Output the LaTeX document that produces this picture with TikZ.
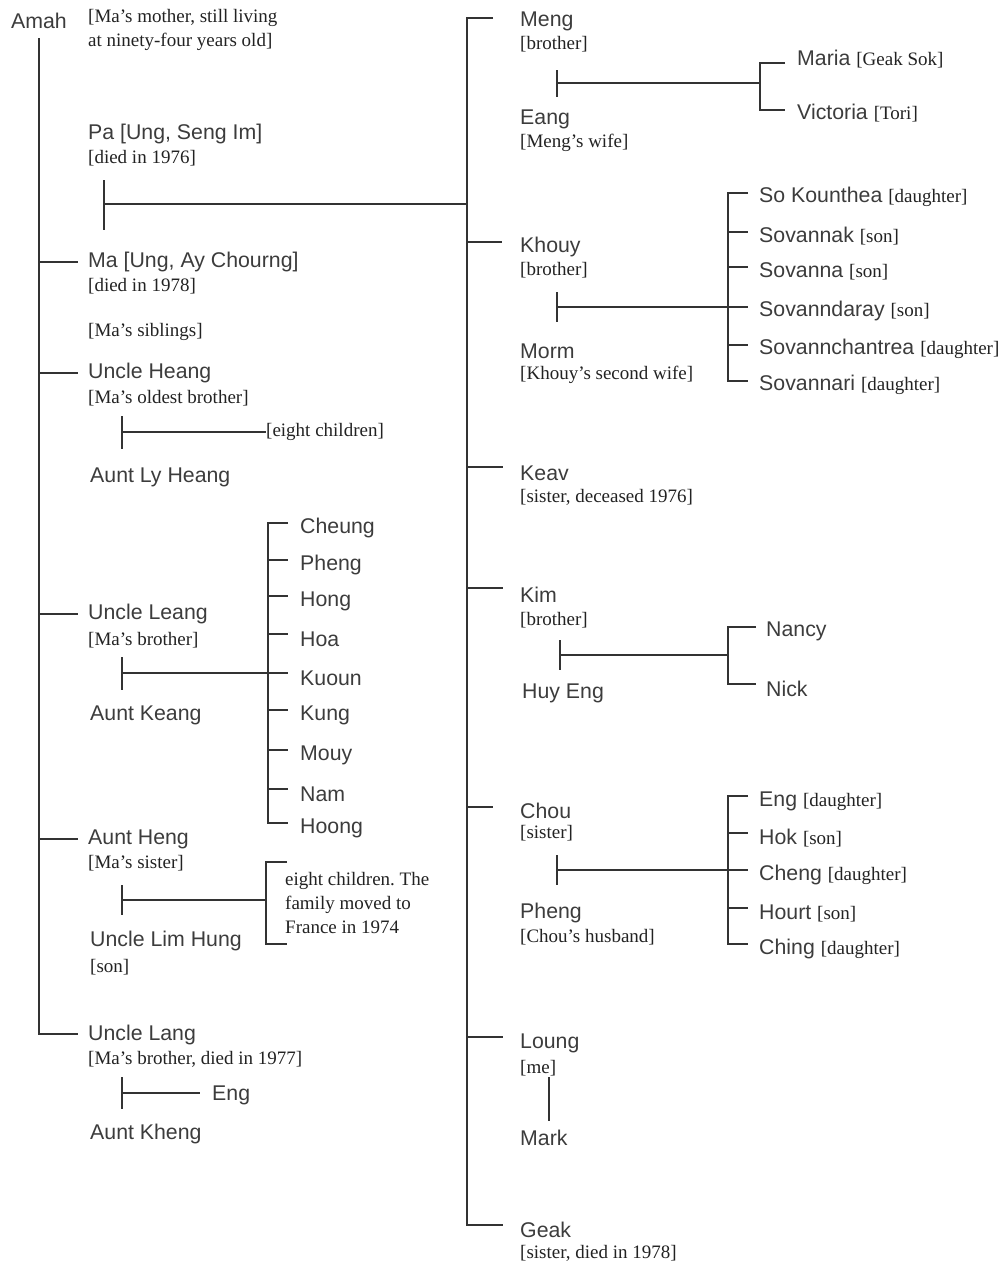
\documentclass[tikz,border=0pt]{standalone}
\usepackage{fontspec}
\setmainfont{Liberation Serif}
\setsansfont{Liberation Sans}
\usetikzlibrary{calc}
\frenchspacing
\definecolor{ink}{HTML}{333333}
\definecolor{nmcol}{HTML}{3C3C3C}
\definecolor{ancol}{HTML}{222222}
\newcommand\annot[1]{{\rmfamily\fontsize{19}{24}\selectfont\color{ancol}#1}}
\tikzset{
  nm/.style={anchor=west, inner sep=0pt, font=\sffamily\fontsize{21.3}{25}\selectfont, text=nmcol},
  ann/.style={anchor=west, inner sep=0pt, align=left, font=\rmfamily\fontsize{19}{24}\selectfont, text=ancol},
  ln/.style={draw=ink, line width=1.7pt},
}
\begin{document}
\begin{tikzpicture}[x=1pt,y=-1pt]
\useasboundingbox (0,0) rectangle (1008,1269);

% ---------------- left column ----------------
\node[nm] (amah) at (11,21) {Amah};
\node[ann] (amahA) at (88,30) {[Ma’s mother, still living\\at ninety-four years old]};
\node[nm] (pa) at (88,134) {Pa [Ung, Seng Im]};
\node[ann] (paA) at (88,158) {[died in 1976]};
\node[nm] (ma) at (88,262) {Ma [Ung, Ay Chourng]};
\node[ann] (maA) at (88,286) {[died in 1978]};
\node[ann] (sib) at (88,332) {[Ma’s siblings]};
\node[nm] (heang) at (88,373) {Uncle Heang};
\node[ann] (heangA) at (88,398) {[Ma’s oldest brother]};
\node[ann] (eightA) at (266,432) {[eight children]};
\node[nm] (lyheang) at (90,477) {Aunt Ly Heang};
\node[nm] (leang) at (88,614) {Uncle Leang};
\node[ann] (leangA) at (88,640) {[Ma’s brother]};
\node[nm] (keang) at (90,715) {Aunt Keang};
\node[nm] (cheung) at (300,528) {Cheung};
\node[nm] (pheng) at (300,565) {Pheng};
\node[nm] (hong) at (300,601) {Hong};
\node[nm] (hoa) at (300,639) {Hoa};
\node[nm] (kuoun) at (300,678) {Kuoun};
\node[nm] (kung) at (300,715) {Kung};
\node[nm] (mouy) at (300,755) {Mouy};
\node[nm] (nam) at (300,794) {Nam};
\node[nm] (hoong) at (300,828) {Hoong};
\node[nm] (heng) at (88,839) {Aunt Heng};
\node[ann] (hengA) at (88,863) {[Ma’s sister]};
\node[ann] (hengKids) at (285,903) {eight children. The\\family moved to\\France in 1974};
\node[nm] (limhung) at (90,941) {Uncle Lim Hung};
\node[ann] (limhungA) at (90,967) {[son]};
\node[nm] (lang) at (88,1035) {Uncle Lang};
\node[ann] (langA) at (88,1059) {[Ma’s brother, died in 1977]};
\node[nm] (engL) at (212,1095) {Eng};
\node[nm] (kheng) at (90,1134) {Aunt Kheng};

% left trunk and branches
\draw[ln] ([yshift=-9pt]amah.south) |- ([xshift=-10pt,yshift=1pt]lang.west);
\foreach \n in {ma,heang,leang,heng}
  \draw[ln] (amah.south |- \n.west) -- ([xshift=-10pt]\n.west);

% Pa & Ma
\coordinate (paT) at (104,180);
\coordinate (paB) at (104,230);
\coordinate (paM) at (104,204);
\coordinate (rtrunk) at (467,0);
\draw[ln] (paT) -- (paB);
\draw[ln] (paM) -- (paM -| rtrunk);

% Uncle Heang
\coordinate (heangT) at (122,416);
\coordinate (heangB) at (122,449);
\coordinate (heangM) at (122,432);
\draw[ln] (heangT) -- (heangB);
\draw[ln] (heangM) -- (eightA.west);

% Uncle Leang
\coordinate (leangT) at (122,657);
\coordinate (leangB) at (122,690);
\coordinate (leangM) at (122,673);
\draw[ln] (leangT) -- (leangB);
\foreach \n in {cheung,pheng,hong,hoa,kuoun,kung,mouy,nam,hoong}
  \coordinate (\n L) at ([xshift=-12pt,yshift=5pt]\n.west);
\coordinate (leangK) at (268,0);
\draw[ln] (cheungL) -| (leangK |- hoongL) -- (hoongL);
\foreach \n in {pheng,hong,hoa,kung,mouy,nam}
  \draw[ln] (leangK |- \n L) -- (\n L);
\draw[ln] (leangM) -- (leangM -| kuounL);

% Aunt Heng
\coordinate (hengT) at (122,885);
\coordinate (hengB) at (122,915);
\coordinate (hengM) at (122,900);
\coordinate (hengK) at (266,900);
\coordinate (hengBt) at (287,862);
\coordinate (hengBb) at (287,944);
\draw[ln] (hengT) -- (hengB);
\draw[ln] (hengM) -- (hengK);
\draw[ln] (hengBt) -| (hengK) |- (hengBb);

% Uncle Lang
\coordinate (langT) at (122,1077);
\coordinate (langB) at (122,1109);
\coordinate (langM) at (122,1093);
\coordinate (engLL) at ([xshift=-12pt]engL.west);
\draw[ln] (langT) -- (langB);
\draw[ln] (langM) -- (langM -| engLL);

% ---------------- right column ----------------
\node[nm] (meng) at (520,21) {Meng};
\node[ann] (mengA) at (520,44) {[brother]};
\node[nm] (eang) at (520,119) {Eang};
\node[ann] (eangA) at (520,143) {[Meng’s wife]};
\node[nm] (maria) at (797,59) {Maria \annot{[Geak Sok]}};
\node[nm] (victoria) at (797,113) {Victoria \annot{[Tori]}};

\node[nm] (khouy) at (520,247) {Khouy};
\node[ann] (khouyA) at (520,270) {[brother]};
\node[nm] (morm) at (520,351) {Morm};
\node[ann] (mormA) at (520,375) {[Khouy’s second wife]};
\node[nm] (sk) at (759,197) {So Kounthea \annot{[daughter]}};
\node[nm] (snk) at (759,236) {Sovannak \annot{[son]}};
\node[nm] (sna) at (759,271) {Sovanna \annot{[son]}};
\node[nm] (sd) at (759,311) {Sovanndaray \annot{[son]}};
\node[nm] (sc) at (759,349) {Sovannchantrea \annot{[daughter]}};
\node[nm] (sri) at (759,385) {Sovannari \annot{[daughter]}};

\node[nm] (keav) at (520,473) {Keav};
\node[ann] (keavA) at (520,497) {[sister, deceased 1976]};

\node[nm] (kim) at (520,595) {Kim};
\node[ann] (kimA) at (520,620) {[brother]};
\node[nm] (huyeng) at (522,693) {Huy Eng};
\node[nm] (nancy) at (766,631) {Nancy};
\node[nm] (nick) at (766,689) {Nick};

\node[nm] (chou) at (520,811) {Chou};
\node[ann] (chouA) at (520,833) {[sister]};
\node[nm] (pheng2) at (520,913) {Pheng};
\node[ann] (pheng2A) at (520,937) {[Chou’s husband]};
\node[nm] (engd) at (759,801) {Eng \annot{[daughter]}};
\node[nm] (hok) at (759,838) {Hok \annot{[son]}};
\node[nm] (cheng) at (759,875) {Cheng \annot{[daughter]}};
\node[nm] (hourt) at (759,913) {Hourt \annot{[son]}};
\node[nm] (ching) at (759,949) {Ching \annot{[daughter]}};

\node[nm] (loung) at (520,1043) {Loung};
\node[ann] (loungA) at (520,1068) {[me]};
\node[nm] (mark) at (520,1138) {Mark};

\node[nm] (geak) at (520,1230) {Geak};
\node[ann] (geakA) at (520,1253) {[sister, died in 1978]};

% right trunk and branches
\coordinate (mengL) at ([xshift=-27pt,yshift=3pt]meng.west);
\coordinate (geakL) at ([xshift=-17pt,yshift=5pt]geak.west);
\draw[ln] (mengL) -| (rtrunk |- geakL) -- (geakL);
\coordinate (khouyL) at ([xshift=-18pt,yshift=5pt]khouy.west);
\coordinate (keavL) at ([xshift=-17pt,yshift=6pt]keav.west);
\coordinate (kimL) at ([xshift=-17pt,yshift=7pt]kim.west);
\coordinate (chouL) at ([xshift=-27pt,yshift=4pt]chou.west);
\coordinate (loungL) at ([xshift=-17pt,yshift=6pt]loung.west);
\foreach \n in {khouy,keav,kim,chou,loung}
  \draw[ln] (rtrunk |- \n L) -- (\n L);

% Meng & Eang
\coordinate (mengT) at (557,70);
\coordinate (mengB) at (557,97);
\coordinate (mengM) at (557,83);
\coordinate (mengK) at (760,83);
\coordinate (mariaL) at ([xshift=-12pt,yshift=-4pt]maria.west);
\coordinate (victoriaL) at ([xshift=-12pt,yshift=3pt]victoria.west);
\draw[ln] (mengT) -- (mengB);
\draw[ln] (mengM) -- (mengK);
\draw[ln] (mariaL) -| (mengK) |- (victoriaL);

% Khouy & Morm
\coordinate (khouyT) at (557,292);
\coordinate (khouyB) at (557,322);
\coordinate (khouyM) at (557,307);
\coordinate (khouyK) at (728,0);
\foreach \n in {sk,snk,sna,sd,sc,sri}
  \coordinate (\n L) at ([xshift=-11pt,yshift=4pt]\n.west);
\draw[ln] (khouyT) -- (khouyB);
\draw[ln] (skL) -| (khouyK |- sriL) -- (sriL);
\foreach \n in {snk,sna,sc}
  \draw[ln] (khouyK |- \n L) -- (\n L);
\draw[ln] (khouyM) -- (khouyM -| sdL);

% Kim & Huy Eng
\coordinate (kimT) at (560,640);
\coordinate (kimB) at (560,670);
\coordinate (kimM) at (560,655);
\coordinate (kimK) at (728,655);
\coordinate (nancyL) at ([xshift=-10pt,yshift=4pt]nancy.west);
\coordinate (nickL) at ([xshift=-10pt,yshift=5pt]nick.west);
\draw[ln] (kimT) -- (kimB);
\draw[ln] (kimM) -- (kimK);
\draw[ln] (nancyL) -| (kimK) |- (nickL);

% Chou & Pheng
\coordinate (chouT) at (557,855);
\coordinate (chouB) at (557,885);
\coordinate (chouM) at (557,870);
\coordinate (chouK) at (728,0);
\foreach \n in {engd,hok,cheng,hourt,ching}
  \coordinate (\n L) at ([xshift=-11pt,yshift=5pt]\n.west);
\draw[ln] (chouT) -- (chouB);
\draw[ln] (engdL) -| (chouK |- chingL) -- (chingL);
\foreach \n in {hok,hourt}
  \draw[ln] (chouK |- \n L) -- (\n L);
\draw[ln] (chouM) -- (chouM -| chengL);

% Loung & Mark
\coordinate (lmT) at (549,1077);
\coordinate (lmB) at (549,1121);
\draw[ln] (lmT) -- (lmB);

\end{tikzpicture}
\end{document}
